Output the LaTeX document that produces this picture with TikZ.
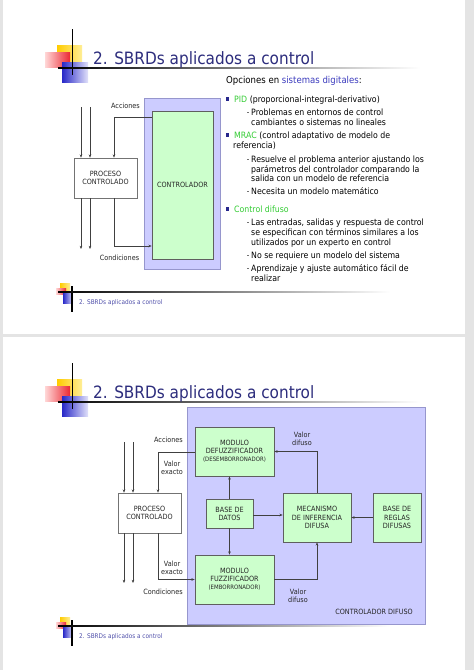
\documentclass[tikz,border=0pt]{standalone}
\usepackage{fontspec}
\setmainfont{DejaVu Sans}[FakeStretch=0.9]
\usetikzlibrary{arrows.meta,calc}
\definecolor{bgc}{RGB}{228,228,228}
\definecolor{pfill}{RGB}{204,204,255}
\definecolor{pdraw}{RGB}{150,150,205}
\definecolor{gfill}{RGB}{204,255,204}
\definecolor{gdraw}{RGB}{95,95,95}
\definecolor{navy}{RGB}{45,45,125}
\definecolor{foot}{RGB}{80,80,170}
\definecolor{kgreen}{RGB}{51,204,51}
\definecolor{kblue}{RGB}{60,60,190}
\definecolor{bul}{RGB}{40,40,140}
\definecolor{lyel}{RGB}{255,204,0}
\definecolor{lyel2}{RGB}{255,238,150}
\definecolor{lred}{RGB}{235,40,50}
\definecolor{lred2}{RGB}{255,215,215}
\definecolor{lblue}{RGB}{40,40,200}
\definecolor{lblue2}{RGB}{225,225,250}
\definecolor{dtext}{RGB}{38,38,38}
\newcommand\dfont{\fontsize{7.2}{8.2}\selectfont}
\newcommand\sfontx{\fontsize{6}{8.2}\selectfont}
\newcommand\bfont{\fontsize{8.7}{10}\selectfont}
\newcommand\hfont{\fontsize{9.5}{11}\selectfont}
\newcommand\tfont{\fontsize{17}{20}\selectfont}
\newcommand\ffont{\fontsize{6.4}{7}\selectfont}
\newcommand\headlogo{%
  \shade[left color=lyel, right color=lyel2] (57,45) rectangle (82,63);
  \shade[left color=lred2, right color=lred] (45,52) rectangle (70,67);
  \shade[left color=lblue, middle color=lblue, right color=lblue2] (62,62) rectangle (88,82);
  \fill[black] (71.5,29) rectangle (72.7,75);
  \shade[left color=black, middle color=black!65, right color=white] (58,67.4) rectangle (420,68.6);
}
\newcommand\footlogo{%
  \shade[left color=lyel, right color=lyel2] (60,283) rectangle (70,290);
  \shade[left color=lred2, right color=lred] (56,288) rectangle (66,294);
  \shade[left color=lblue, middle color=lblue, right color=lblue2] (63,292) rectangle (73,303);
  \fill[black] (71.4,286) rectangle (72.8,312);
  \shade[left color=black, middle color=black!55, right color=white] (58,291.4) rectangle (390,292.6);
}
\newcommand\subdash[1]{\fill[black!55] (246.6,#1-0.4) rectangle (248.6,#1+0.4);}
\newcommand\bulsq[1]{\fill[bul] (225.5,#1-1.7) rectangle (229,#1+1.7);}
\tikzset{
  arr/.style={draw=black!75, line width=0.6pt, -{Stealth[length=3.2pt,width=2.6pt]}},
  pbox/.style={draw=pdraw, fill=pfill, line width=0.7pt, inner sep=0},
  gbox/.style={draw=gdraw, fill=gfill, line width=0.7pt, inner sep=0, align=center, font=\dfont, text=dtext},
  wbox/.style={draw=black!55, fill=white, line width=0.7pt, inner sep=0, align=center, font=\dfont, text=dtext},
  lbl/.style={font=\dfont, text=dtext, align=center, inner sep=0},
  body/.style={font=\bfont, anchor=base west, inner sep=0, text=black},
  ttl/.style={font=\tfont, anchor=base west, inner sep=0, text=navy},
  ftx/.style={font=\ffont, anchor=base west, inner sep=0, text=foot},
}
\begin{document}
\begin{tikzpicture}[x=1pt,y=-1pt]
\useasboundingbox (0,0) rectangle (474,670);
\fill[bgc] (0,0) rectangle (474,670);
\fill[white] (3,0) rectangle (465,334);
\fill[white] (3,337) rectangle (465,670);

% ---------------- slide 1 ----------------
\headlogo
\footlogo
\node[ttl] (title1) at (93,64) {2. SBRDs aplicados a control};
\node[ftx] (foot1) at (79,304) {2. SBRDs aplicados a control};

\node[pbox, minimum width=76, minimum height=171] (cbg) at (182,183.5) {};
\node[gbox, minimum width=61, minimum height=148] (ctrl) at (182.5,185) {CONTROLADOR};
\node[wbox, minimum width=63, minimum height=40] (proc) at (105.5,178) {PROCESO\\CONTROLADO};

\coordinate (i1) at (81,107);
\coordinate (i2) at (90,107);
\draw[arr] (i1) -- (i1 |- proc.north);
\draw[arr] (i2) -- (i2 |- proc.north);
\coordinate (k1) at (114,117);
\draw[arr] (ctrl.west |- k1) -- (k1) -- (k1 |- proc.north);
\coordinate (u1) at (81,249);
\coordinate (u2) at (90,249);
\draw[arr] (u1 |- proc.south) -- (u1);
\draw[arr] (u2 |- proc.south) -- (u2);
\coordinate (k2) at (114,246);
\draw[arr] (k2 |- proc.south) -- (k2) -- (k2 -| ctrl.west);
\node[lbl] (lac1) at (125.5,106) {Acciones};
\node[lbl] (lco1) at (119.5,258) {Condiciones};

\node[body, font=\hfont] (t0) at (226,83.5) {Opciones en \textcolor{kblue}{sistemas digitales}:};
\bulsq{99}
\node[body] (t1) at (234,102) {\textcolor{kgreen}{PID} (proporcional-integral-derivativo)};
\subdash{112}
\node[body] (t2) at (251,115) {Problemas en entornos de control};
\node[body] (t3) at (251,125) {cambiantes o sistemas no lineales};
\bulsq{135}
\node[body] (t4) at (234,138) {\textcolor{kgreen}{MRAC} (control adaptativo de modelo de};
\node[body] (t5) at (233,148.5) {referencia)};
\subdash{159}
\node[body] (t6) at (251,162) {Resuelve el problema anterior ajustando los};
\node[body] (t7) at (251,172) {parámetros del controlador comparando la};
\node[body] (t8) at (251,181.5) {salida con un modelo de referencia};
\subdash{191.5}
\node[body] (t9) at (251,194.5) {Necesita un modelo matemático};
\bulsq{209}
\node[body] (t10) at (234,212) {\textcolor{kgreen}{Control difuso}};
\subdash{222.5}
\node[body] (t11) at (251,225.5) {Las entradas, salidas y respuesta de control};
\node[body] (t12) at (251,235.5) {se especifican con términos similares a los};
\node[body] (t13) at (251,245.5) {utilizados por un experto en control};
\subdash{255.5}
\node[body] (t14) at (251,258.5) {No se requiere un modelo del sistema};
\subdash{268}
\node[body] (t15) at (251,271) {Aprendizaje y ajuste automático fácil de};
\node[body] (t16) at (251,281) {realizar};

% ---------------- slide 2 ----------------
\begin{scope}[yshift=-334pt]
\headlogo
\footlogo
\end{scope}
\node[ttl] (title2) at (93,398) {2. SBRDs aplicados a control};
\node[ftx] (foot2) at (79,638) {2. SBRDs aplicados a control};

\node[pbox, minimum width=238, minimum height=217] (fbg) at (306,515.5) {};
\node[lbl, anchor=east] (cdif) at (413,612) {CONTROLADOR DIFUSO};
\node[gbox, minimum width=79, minimum height=49] (defz) at (234.5,451.5) {MODULO\\DEFUZZIFICADOR\\{\sfontx (DESEMBORRONADOR)}};
\node[wbox, minimum width=63, minimum height=40] (proc2) at (149.5,513) {PROCESO\\CONTROLADO};
\node[gbox, minimum width=47, minimum height=29] (bdd) at (229.5,513.5) {BASE DE\\DATOS};
\node[gbox, minimum width=68, minimum height=49] (mec) at (317,517.5) {MECANISMO\\DE INFERENCIA\\DIFUSA};
\node[gbox, minimum width=48, minimum height=49] (reg) at (397,517.5) {BASE DE\\REGLAS\\DIFUSAS};
\node[gbox, minimum width=79, minimum height=49] (fz) at (234.5,579.5) {MODULO\\FUZZIFICADOR\\{\sfontx (EMBORRONADOR)}};

\coordinate (j1) at (124,442);
\coordinate (j2) at (133,442);
\draw[arr] (j1) -- (j1 |- proc2.north);
\draw[arr] (j2) -- (j2 |- proc2.north);
\coordinate (k3) at (158,452);
\draw[arr] (defz.west |- k3) -- (k3) -- (k3 |- proc2.north);
\coordinate (v1) at (124,583);
\coordinate (v2) at (133,583);
\draw[arr] (v1 |- proc2.south) -- (v1);
\draw[arr] (v2 |- proc2.south) -- (v2);
\coordinate (k4) at (158,579.5);
\draw[arr] (k4 |- proc2.south) -- (k4) -- (fz.west);
\draw[arr] (bdd.north) -- (bdd.north |- defz.south);
\draw[arr] (bdd.south) -- (bdd.south |- fz.north);
\coordinate (k5) at (253,515);
\draw[arr] (bdd.east |- k5) -- (k5 -| mec.west);
\draw[arr] (mec.north) |- (defz.east);
\draw[arr] (fz.east) -| (mec.south);
\draw[arr] (reg.west) -- (mec.east);

\node[lbl] (lac2) at (168.5,440) {Acciones};
\node[lbl] (lve1) at (172,468) {Valor\\exacto};
\node[lbl] (lve2) at (172,568) {Valor\\exacto};
\node[lbl] (lco2) at (163,592) {Condiciones};
\node[lbl] (lvd1) at (302,438.5) {Valor\\difuso};
\node[lbl] (lvd2) at (298,596) {Valor\\difuso};
\end{tikzpicture}
\end{document}
